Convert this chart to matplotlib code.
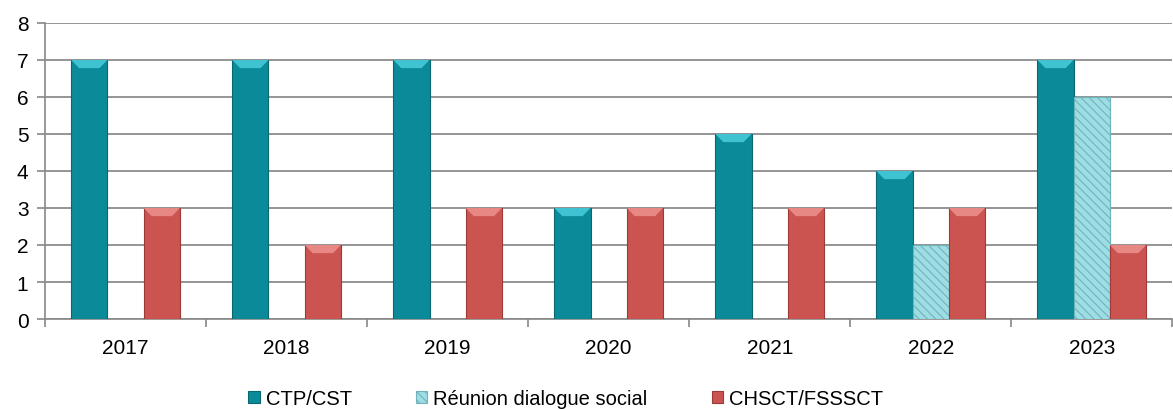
import matplotlib
matplotlib.use("Agg")
import matplotlib.pyplot as plt
from matplotlib.patches import Polygon
import numpy as np

plt.rcParams['font.family'] = ['Liberation Sans', 'DejaVu Sans']

# Data
years = ["2017", "2018", "2019", "2020", "2021", "2022", "2023"]
ctp_cst = [7, 7, 7, 3, 5, 4, 7]
dialogue_social = [0, 0, 0, 0, 0, 2, 6]
chsct_fsssct = [3, 2, 3, 3, 3, 3, 2]

series_names = ["CTP/CST", "Réunion dialogue social", "CHSCT/FSSSCT"]

fig = plt.figure(figsize=(11.73, 4.10), dpi=100)
ax = fig.add_axes([0.0384, 0.2195, 0.961, 0.722])

x = np.arange(len(years))
w = 0.225

plt.rcParams['hatch.color'] = '#5aa9b2'
plt.rcParams['hatch.linewidth'] = 0.8

b1 = ax.bar(x - w, ctp_cst, w, color='#0b8a99', edgecolor='#0a6670', linewidth=0.8,
            label=series_names[0], zorder=3)
b2 = ax.bar(x, dialogue_social, w, color='#9fdde4', edgecolor='#6fb3bb', linewidth=0.8,
            hatch='\\\\\\\\', label=series_names[1], zorder=3)
b3 = ax.bar(x + w, chsct_fsssct, w, color='#cc5450', edgecolor='#9a3b38', linewidth=0.8,
            label=series_names[2], zorder=3)

# bevel highlight on top of the solid bars
def bevel(bars, color):
    for r in bars:
        h = r.get_height()
        if h <= 0:
            continue
        x0, bw = r.get_x(), r.get_width()
        d = 0.22
        pts = [(x0, h), (x0 + bw, h), (x0 + bw * 0.78, h - d), (x0 + bw * 0.22, h - d)]
        ax.add_patch(Polygon(pts, closed=True, facecolor=color, edgecolor='none', zorder=4))

bevel(b1, '#3fc3d2')
bevel(b3, '#e88885')

ax.set_ylim(0, 8)
ax.set_yticks(range(0, 9))
ax.set_xlim(-0.5, len(years) - 0.5)
ax.set_xticks(x)
ax.set_xticklabels(years)
ax.set_xticks(np.arange(-0.5, len(years), 1), minor=True)
ax.tick_params(axis='x', which='major', length=0, pad=14, labelsize=15)
ax.tick_params(axis='x', which='minor', length=6, color='#888888', width=1.2)
ax.tick_params(axis='y', length=6, color='#888888', width=1.2, labelsize=15, pad=6)

ax.grid(axis='y', color='#8c8c8c', linewidth=1.3, zorder=0)
for side in ['top', 'right']:
    ax.spines[side].set_visible(False)
for side in ['left', 'bottom']:
    ax.spines[side].set_color('#888888')
    ax.spines[side].set_linewidth(1.2)

ax.legend(loc='center', bbox_to_anchor=(0.462, -0.27), ncol=3, frameon=False,
          fontsize=14.5, handlelength=0.55, handleheight=0.55, handletextpad=0.3,
          columnspacing=3.2)

fig.savefig("out.png", dpi=100)
